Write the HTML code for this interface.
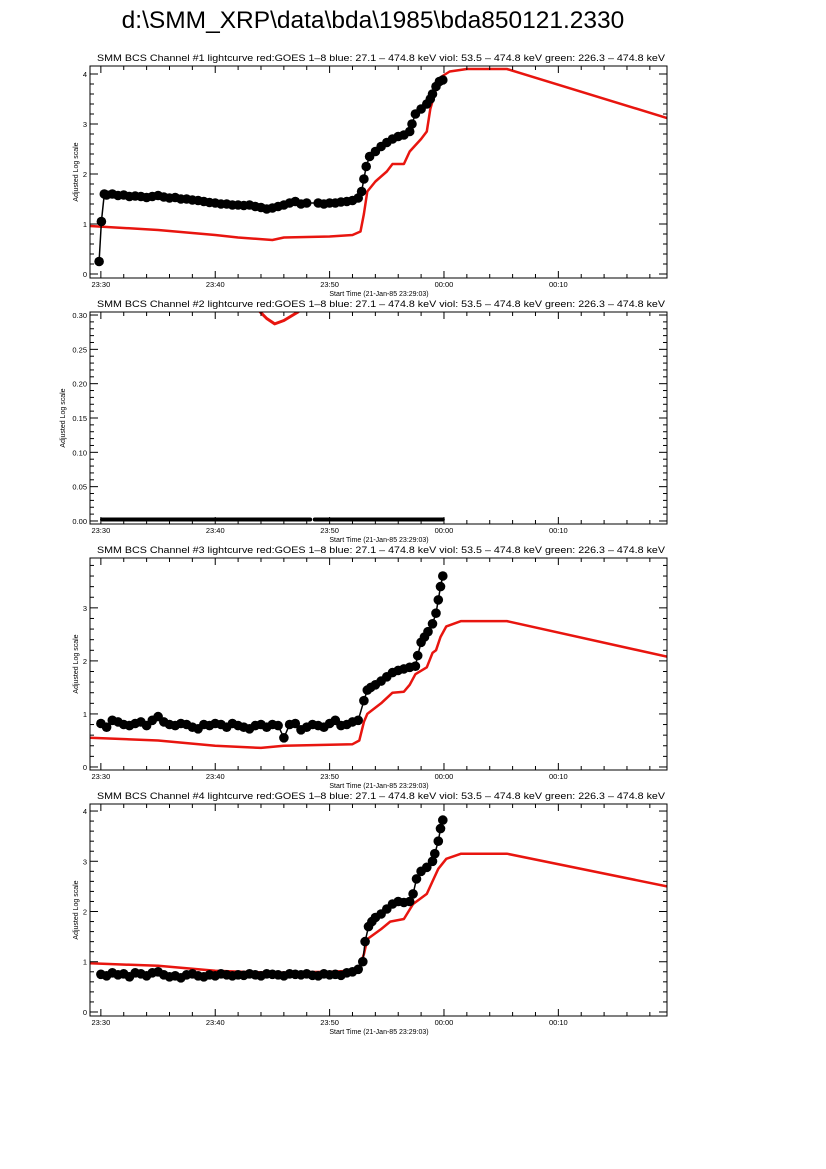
<!DOCTYPE html>
<html><head><meta charset="utf-8">
<style>
html,body{margin:0;padding:0;background:#fff;}
svg{display:block;font-family:"Liberation Sans",sans-serif;}
</style></head>
<body>
<svg id="page" width="826" height="1169" viewBox="0 0 826 1169">
<text x="373" y="28" font-size="24.5" text-anchor="middle" fill="#000">d:\SMM_XRP\data\bda\1985\bda850121.2330</text>
</svg>
<script>
// time in minutes relative to 23:30
const xTickLabels = ["23:30","23:40","23:50","00:00","00:10"];
const xTickTimes = [0,10,20,30,40];
const panelTitles = [
 "SMM BCS Channel #1 lightcurve  red:GOES 1\u20138  blue: 27.1 \u2013 474.8 keV  viol: 53.5 \u2013 474.8 keV  green: 226.3 \u2013 474.8 keV",
 "SMM BCS Channel #2 lightcurve  red:GOES 1\u20138  blue: 27.1 \u2013 474.8 keV  viol: 53.5 \u2013 474.8 keV  green: 226.3 \u2013 474.8 keV",
 "SMM BCS Channel #3 lightcurve  red:GOES 1\u20138  blue: 27.1 \u2013 474.8 keV  viol: 53.5 \u2013 474.8 keV  green: 226.3 \u2013 474.8 keV",
 "SMM BCS Channel #4 lightcurve  red:GOES 1\u20138  blue: 27.1 \u2013 474.8 keV  viol: 53.5 \u2013 474.8 keV  green: 226.3 \u2013 474.8 keV"];

const black1T = [-0.15,0.05,0.3,0.5,1,1.5,2,2.5,3,3.5,4,4.5,5,5.5,6,6.5,7,7.5,8,8.5,9,9.5,10,10.5,11,11.5,12,12.5,13,13.5,14,14.5,15,15.5,16,16.5,17,17.5,18,19,19.5,20,20.5,21,21.5,22,22.5,22.8,23,23.2,23.5,24,24.5,25,25.5,26,26.5,27,27.2,27.5,28,28.5,28.8,29,29.3,29.6,29.9];
const black1V = [0.25,1.05,1.6,1.58,1.6,1.57,1.58,1.55,1.56,1.55,1.53,1.55,1.57,1.54,1.52,1.53,1.5,1.5,1.48,1.47,1.45,1.43,1.42,1.4,1.4,1.38,1.38,1.37,1.38,1.35,1.33,1.3,1.32,1.35,1.38,1.42,1.45,1.4,1.42,1.42,1.4,1.42,1.42,1.44,1.45,1.47,1.52,1.65,1.9,2.15,2.35,2.45,2.55,2.63,2.7,2.75,2.78,2.85,3.0,3.2,3.3,3.4,3.5,3.6,3.75,3.85,3.88];
const red1T = [-0.95,5,10,12,15,16,20,22,22.7,23,23.3,24,25,25.5,26.5,27,28,28.5,28.8,29.3,29.8,30.5,32,35.5,49.5];
const red1V = [0.96,0.88,0.78,0.73,0.68,0.73,0.75,0.78,0.85,1.2,1.65,1.85,2.05,2.2,2.2,2.45,2.7,2.85,3.3,3.7,3.95,4.05,4.1,4.1,3.12];

const black2T = [0.1,18.3,18.7,29.9];
const black2V = [0,0,0,0];
const red2T = [13.9,14.5,15.2,16,16.8,17.3];
const red2V = [0.305,0.295,0.287,0.292,0.300,0.305];

const black3T = [0,0.5,1,1.5,2,2.5,3,3.5,4,4.5,5,5.5,6,6.5,7,7.5,8,8.5,9,9.5,10,10.5,11,11.5,12,12.5,13,13.5,14,14.5,15,15.5,16,16.5,17,17.5,18,18.5,19,19.5,20,20.5,21,21.5,22,22.5,23,23.3,23.6,24,24.5,25,25.5,26,26.5,27,27.5,27.7,28,28.3,28.6,29,29.3,29.5,29.7,29.9];
const black3V = [0.82,0.75,0.88,0.85,0.8,0.78,0.82,0.85,0.78,0.88,0.95,0.85,0.8,0.78,0.82,0.8,0.75,0.72,0.8,0.78,0.82,0.8,0.75,0.82,0.78,0.75,0.72,0.78,0.8,0.75,0.8,0.78,0.55,0.8,0.82,0.7,0.75,0.8,0.78,0.75,0.82,0.88,0.78,0.8,0.85,0.88,1.25,1.45,1.5,1.55,1.62,1.7,1.78,1.82,1.85,1.88,1.9,2.1,2.35,2.45,2.55,2.7,2.9,3.15,3.4,3.6];
const red3T = [-0.95,5,10,14,16,22,22.6,23,23.3,24.5,25.5,26.5,27,27.5,28.5,29,29.3,29.7,30.2,31.5,35.5,49.5];
const red3V = [0.55,0.5,0.4,0.36,0.4,0.43,0.5,0.85,1.0,1.2,1.4,1.42,1.55,1.75,1.88,2.15,2.2,2.45,2.65,2.75,2.75,2.08];

const black4T = [0,0.5,1,1.5,2,2.5,3,3.5,4,4.5,5,5.5,6,6.5,7,7.5,8,8.5,9,9.5,10,10.5,11,11.5,12,12.5,13,13.5,14,14.5,15,15.5,16,16.5,17,17.5,18,18.5,19,19.5,20,20.5,21,21.5,22,22.5,22.9,23.1,23.4,23.7,24,24.5,25,25.5,26,26.5,27,27.3,27.6,28,28.5,29,29.2,29.5,29.7,29.9];
const black4V = [0.75,0.72,0.78,0.74,0.76,0.7,0.78,0.76,0.72,0.78,0.8,0.74,0.7,0.72,0.68,0.74,0.76,0.72,0.7,0.74,0.72,0.76,0.74,0.72,0.74,0.73,0.76,0.74,0.72,0.76,0.75,0.74,0.72,0.76,0.75,0.74,0.76,0.73,0.72,0.76,0.74,0.75,0.73,0.78,0.8,0.85,1.0,1.4,1.7,1.8,1.88,1.95,2.05,2.15,2.2,2.18,2.2,2.35,2.65,2.8,2.88,3.0,3.15,3.4,3.65,3.82];
const red4T = [-0.95,5,10,15,20,22,22.6,23,23.3,24.5,25.3,26.5,27.3,28.5,29,29.5,30.2,31.5,35.5,49.5];
const red4V = [0.97,0.92,0.82,0.78,0.8,0.82,0.88,1.15,1.45,1.65,1.8,1.85,2.15,2.35,2.6,2.85,3.05,3.15,3.15,2.5];

const yTicks1 = [0,1,2,3,4];
const yTicks2 = [0,0.05,0.10,0.15,0.20,0.25,0.30];
const yTicks3 = [0,1,2,3];
const yTicks4 = [0,1,2,3,4];

const NS = "http://www.w3.org/2000/svg";
const svg = document.getElementById('page');
const X0 = 90, X1 = 667, TMIN = -0.95, TMAX = 49.5;
function xs(t){ return X0 + (t - TMIN) / (TMAX - TMIN) * (X1 - X0); }
function mk(tag, attrs, parent){
  const e = document.createElementNS(NS, tag);
  for (const k in attrs) e.setAttribute(k, attrs[k]);
  (parent || svg).appendChild(e);
  return e;
}

const panels = [
 {top:66, ymin:-0.08, ymax:4.16, ticks:yTicks1, minor:0.2, fmt:v=>String(v), bT:black1T, bV:black1V, rT:red1T, rV:red1V, dots:true},
 {top:312, ymin:-0.0044, ymax:0.3044, ticks:yTicks2, minor:0.01, fmt:v=>v.toFixed(2), bT:black2T, bV:black2V, rT:red2T, rV:red2V, dots:false},
 {top:558, ymin:-0.057, ymax:3.94, ticks:yTicks3, minor:0.2, fmt:v=>String(v), bT:black3T, bV:black3V, rT:red3T, rV:red3V, dots:true},
 {top:804, ymin:-0.08, ymax:4.14, ticks:yTicks4, minor:0.2, fmt:v=>String(v), bT:black4T, bV:black4V, rT:red4T, rV:red4V, dots:true}
];
const H = 212;

panels.forEach((p, i) => {
  const g = mk('g', {});
  
  
  const ys = v => p.top + H - (v - p.ymin) / (p.ymax - p.ymin) * H;
  const clipId = 'clip' + i;
  const cp = mk('clipPath', {id: clipId}, g);
  mk('rect', {x: X0, y: p.top, width: X1 - X0, height: H}, cp);

  const title = mk('text', {x: 381, y: p.top - 5, 'font-size': 9, 'text-anchor': 'middle', textLength: 568, lengthAdjust: 'spacingAndGlyphs'}, g);
  title.textContent = panelTitles[i];
  
  

  const rp = p.rT.map((t, k) => xs(t).toFixed(1) + ',' + ys(p.rV[k]).toFixed(1)).join(' ');
  const red = mk('polyline', {points: rp, fill: 'none', stroke: '#e8150f', 'stroke-width': i === 1 ? 3 : 2.5, 'stroke-linejoin': 'round', 'clip-path': 'url(#' + clipId + ')'}, g);
  
  

  if (p.dots) {
    const bp = p.bT.map((t, k) => xs(t).toFixed(1) + ',' + ys(p.bV[k]).toFixed(1)).join(' ');
    const bl = mk('polyline', {points: bp, fill: 'none', stroke: '#000', 'stroke-width': 1.5}, g);
    
    
    p.bT.forEach((t, k) => {
      const c = mk('circle', {cx: xs(t).toFixed(1), cy: ys(p.bV[k]).toFixed(1), r: 4.8, fill: '#000'}, g);
      
      
    });
  } else {
    for (let k = 0; k < p.bT.length; k += 2) {
      const l = mk('line', {x1: xs(p.bT[k]), x2: xs(p.bT[k+1]), y1: ys(p.bV[k]) - 1.5, y2: ys(p.bV[k+1]) - 1.5, stroke: '#000', 'stroke-width': 4, 'stroke-linecap': 'round'}, g);
      
      
    }
  }

  const fr = mk('rect', {x: X0, y: p.top, width: X1 - X0, height: H, fill: 'none', stroke: '#000', 'stroke-width': 1}, g);
  
  

  for (let t = 0; t <= 48; t += 2) {
    const x = xs(t);
    const major = t % 10 === 0;
    const len = major ? 7 : 4;
    mk('line', {x1: x, x2: x, y1: p.top + H, y2: p.top + H - len, stroke: '#000', 'stroke-width': 1}, g);
    mk('line', {x1: x, x2: x, y1: p.top, y2: p.top + len, stroke: '#000', 'stroke-width': 1}, g);
  }
  xTickTimes.forEach((t, k) => {
    const tx = mk('text', {x: xs(t), y: p.top + H + 9, 'font-size': 7.5, 'text-anchor': 'middle'}, g);
    tx.textContent = xTickLabels[k];
    
    
  });
  const xt = mk('text', {x: 379, y: p.top + H + 18, 'font-size': 7, 'text-anchor': 'middle'}, g);
  xt.textContent = 'Start Time (21-Jan-85 23:29:03)';
  
  

  const nMin = Math.ceil(p.ymin / p.minor), nMax = Math.floor(p.ymax / p.minor + 1e-6);
  for (let n = nMin; n <= nMax; n++) {
    const v = n * p.minor;
    const y = ys(v);
    const major = p.ticks.some(tv => Math.abs(tv - v) < 1e-6);
    const len = major ? 8 : 4;
    mk('line', {x1: X0, x2: X0 + len, y1: y, y2: y, stroke: '#000', 'stroke-width': 1}, g);
    mk('line', {x1: X1, x2: X1 - len, y1: y, y2: y, stroke: '#000', 'stroke-width': 1}, g);
  }
  p.ticks.forEach(v => {
    const ty = mk('text', {x: 87, y: ys(v) + 3, 'font-size': 7.5, 'text-anchor': 'end'}, g);
    ty.textContent = p.fmt(v);
    
    
  });
  const yc = p.top + H / 2;
  const ytl = mk('text', {x: 0, y: 0, 'font-size': 7, 'text-anchor': 'middle', transform: 'translate(' + (i === 1 ? 65 : 78) + ',' + yc + ') rotate(-90)'}, g);
  ytl.textContent = 'Adjusted Log scale';
  
  
});
</script>
</body></html>
